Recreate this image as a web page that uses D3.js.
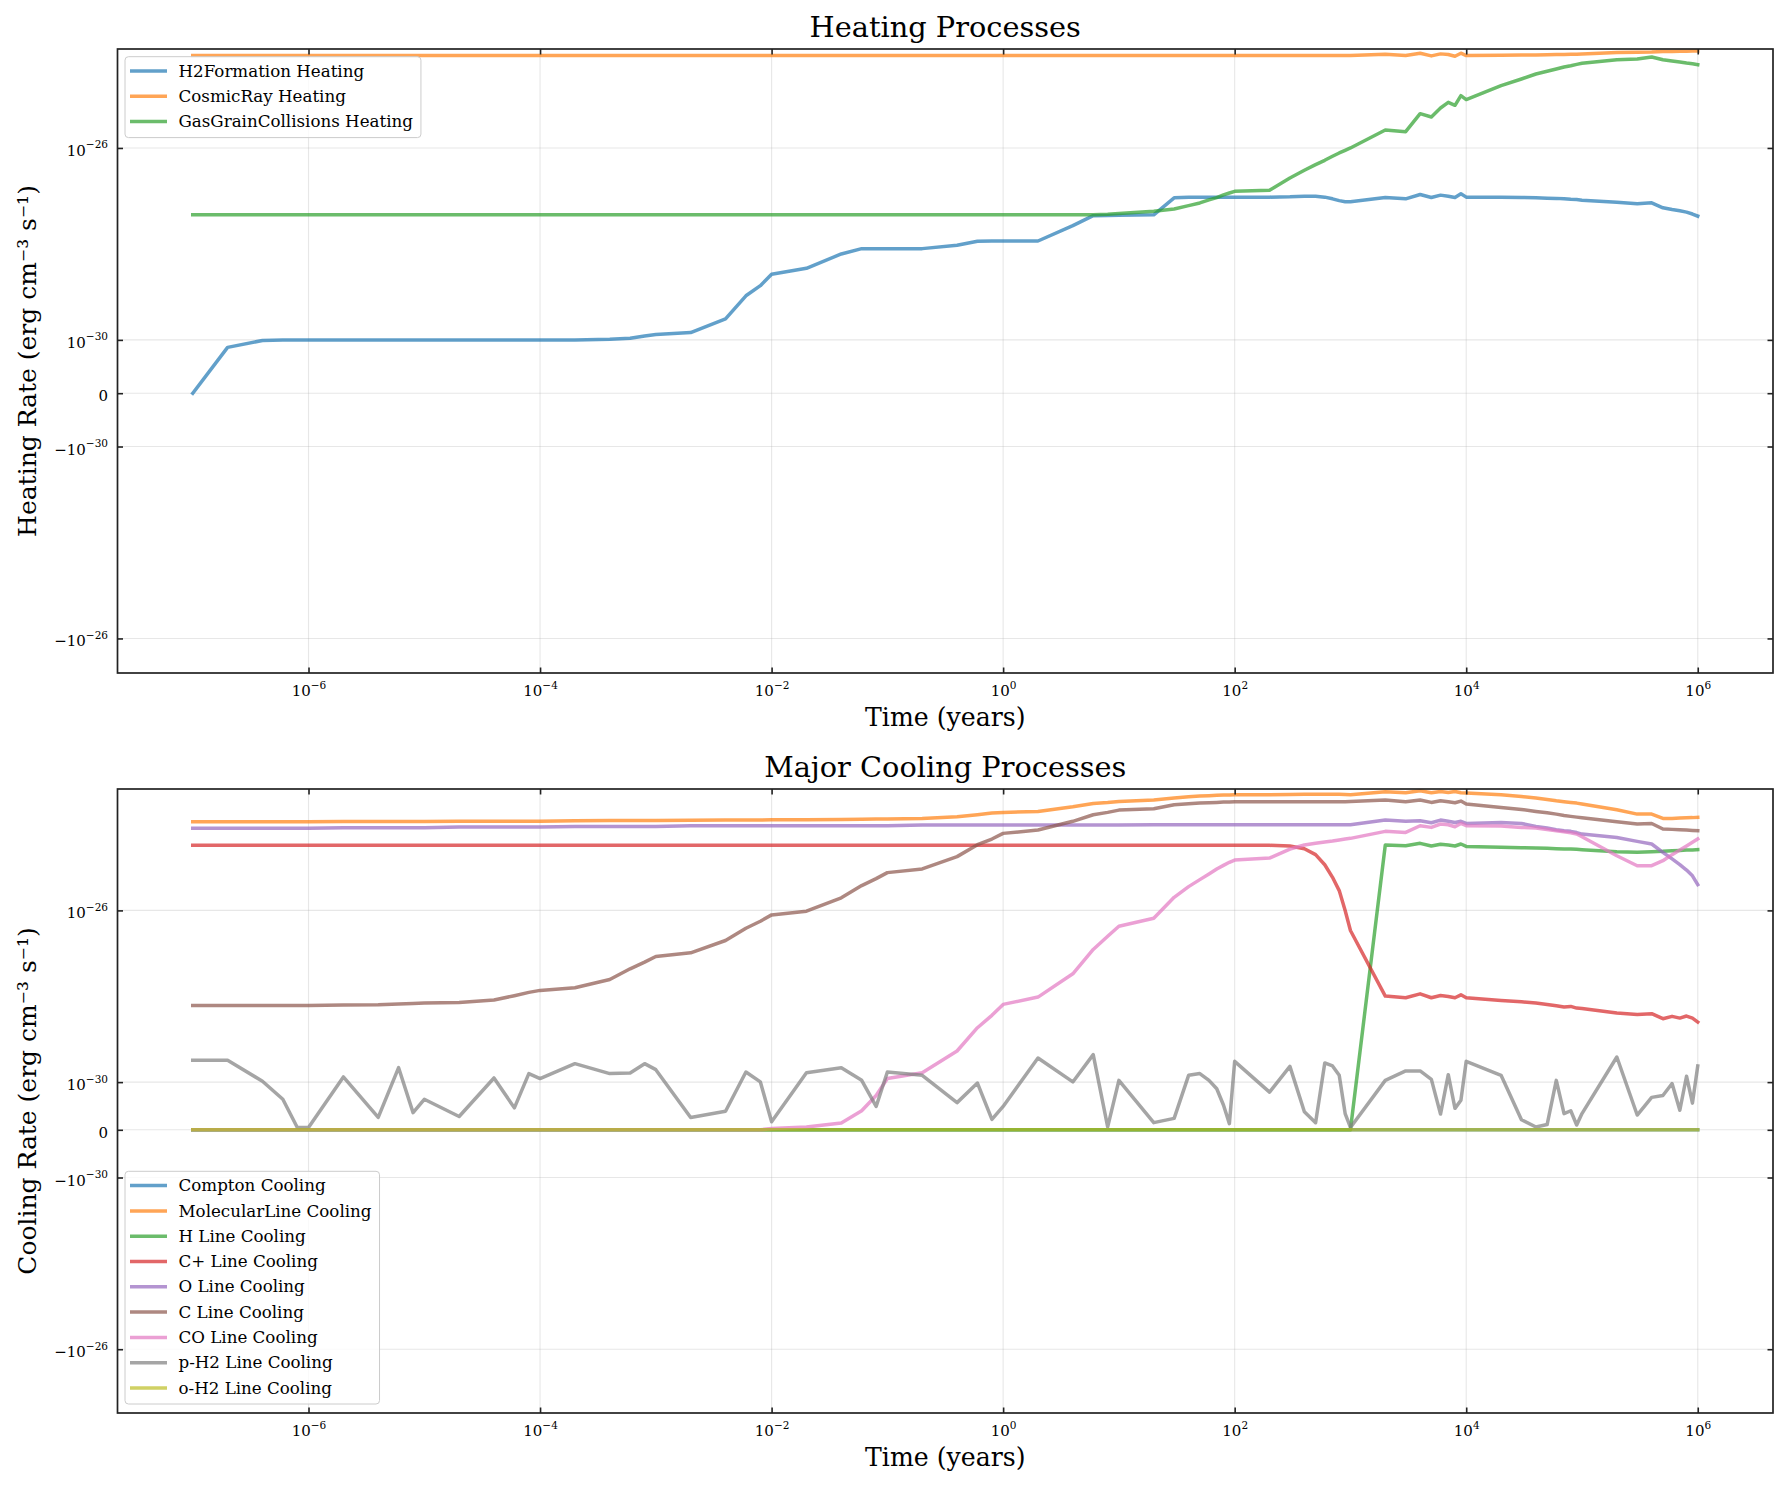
<!DOCTYPE html>
<html>
<head>
<meta charset="utf-8">
<script src="https://cdn.jsdelivr.net/npm/d3@7"></script>
<style>
  body { margin: 0; background: #fff; }
  text { font-family: "DejaVu Serif", serif; }
</style>
</head>
<body>
<svg id="chart"></svg>
<script>
// time grid of the simulation output (years)
const times = [
  1e-7, 2e-7, 4e-7, 6e-7, 8e-7,
  1e-6, 2e-6, 4e-6, 6e-6, 8e-6,
  1e-5, 2e-5, 4e-5, 6e-5, 8e-5,
  1e-4, 2e-4, 4e-4, 6e-4, 8e-4,
  1e-3, 2e-3, 4e-3, 6e-3, 8e-3,
  1e-2, 2e-2, 4e-2, 6e-2, 8e-2,
  1e-1, 2e-1, 4e-1, 6e-1, 8e-1,
  1, 2, 4, 6, 8,
  10, 20, 30, 40, 50, 60, 70, 80, 90,
  100, 200, 300, 400, 500, 600, 700, 800, 900,
  1e3, 2e3, 3e3, 4e3, 5e3, 6e3, 7e3, 8e3, 9e3,
  1e4, 2e4, 3e4, 4e4, 5e4, 6e4, 7e4, 8e4, 9e4,
  1e5, 2e5, 3e5, 4e5, 5e5, 6e5, 7e5, 8e5, 9e5,
  1e6
];

// heating rates (erg cm^-3 s^-1)
const h2FormationHeating = [
  0, 8.6e-31, 9.9e-31, 1e-30, 1e-30,
  1e-30, 1e-30, 1e-30, 1e-30, 1e-30,
  1e-30, 1e-30, 1e-30, 1e-30, 1e-30,
  1e-30, 1e-30, 1.03e-30, 1.08e-30, 1.21e-30,
  1.29e-30, 1.42e-30, 2.73e-30, 8.3e-30, 1.35e-29,
  2.33e-29, 3.11e-29, 6.18e-29, 7.98e-29, 7.98e-29,
  7.98e-29, 7.98e-29, 9.38e-29, 1.14e-28, 1.15e-28,
  1.15e-28, 1.15e-28, 2.4e-28, 3.88e-28, 3.9e-28,
  3.95e-28, 4.05e-28, 9.14e-28, 9.44e-28, 9.44e-28, 9.44e-28, 9.44e-28, 9.44e-28, 9.44e-28,
  9.44e-28, 9.44e-28, 9.59e-28, 9.89e-28, 9.89e-28, 9.44e-28, 8.71e-28, 8.0e-28, 7.6e-28,
  7.55e-28, 9.29e-28, 8.71e-28, 1.07e-27, 9.29e-28, 1.04e-27, 9.89e-28, 9.29e-28, 1.11e-27,
  9.44e-28, 9.44e-28, 9.3e-28, 9.14e-28, 9.0e-28, 8.9e-28, 8.7e-28, 8.5e-28, 8.4e-28,
  8.17e-28, 7.43e-28, 6.86e-28, 7.19e-28, 5.66e-28, 5.2e-28, 4.9e-28, 4.6e-28, 4.2e-28,
  3.8e-28
];
const cosmicRayHeating = [
  8.43e-25, 8.43e-25, 8.43e-25, 8.43e-25, 8.43e-25,
  8.43e-25, 8.43e-25, 8.43e-25, 8.43e-25, 8.43e-25,
  8.43e-25, 8.43e-25, 8.43e-25, 8.43e-25, 8.43e-25,
  8.43e-25, 8.43e-25, 8.43e-25, 8.43e-25, 8.43e-25,
  8.43e-25, 8.43e-25, 8.43e-25, 8.43e-25, 8.43e-25,
  8.43e-25, 8.43e-25, 8.43e-25, 8.43e-25, 8.43e-25,
  8.43e-25, 8.43e-25, 8.43e-25, 8.43e-25, 8.43e-25,
  8.43e-25, 8.43e-25, 8.43e-25, 8.43e-25, 8.43e-25,
  8.43e-25, 8.43e-25, 8.43e-25, 8.43e-25, 8.43e-25, 8.43e-25, 8.43e-25, 8.43e-25, 8.43e-25,
  8.43e-25, 8.43e-25, 8.43e-25, 8.43e-25, 8.43e-25, 8.43e-25, 8.43e-25, 8.43e-25, 8.43e-25,
  8.43e-25, 8.99e-25, 8.43e-25, 9.44e-25, 8.3e-25, 9.14e-25, 8.85e-25, 8.17e-25, 9.44e-25,
  8.43e-25, 8.57e-25, 8.65e-25, 8.7e-25, 8.8e-25, 8.85e-25, 8.9e-25, 8.95e-25, 9.0e-25,
  9.1e-25, 9.75e-25, 9.9e-25, 1.0e-24, 1.02e-24, 1.03e-24, 1.035e-24, 1.04e-24, 1.045e-24,
  1.05e-24
];
const gasGrainHeating = [
  4.05e-28, 4.05e-28, 4.05e-28, 4.05e-28, 4.05e-28,
  4.05e-28, 4.05e-28, 4.05e-28, 4.05e-28, 4.05e-28,
  4.05e-28, 4.05e-28, 4.05e-28, 4.05e-28, 4.05e-28,
  4.05e-28, 4.05e-28, 4.05e-28, 4.05e-28, 4.05e-28,
  4.05e-28, 4.05e-28, 4.05e-28, 4.05e-28, 4.05e-28,
  4.05e-28, 4.05e-28, 4.05e-28, 4.05e-28, 4.05e-28,
  4.05e-28, 4.05e-28, 4.05e-28, 4.05e-28, 4.05e-28,
  4.05e-28, 4.05e-28, 4.05e-28, 4.05e-28, 4.15e-28,
  4.3e-28, 4.8e-28, 5.36e-28, 6.29e-28, 7.15e-28, 8.26e-28, 9.23e-28, 1.05e-27, 1.15e-27,
  1.25e-27, 1.31e-27, 2.37e-27, 3.43e-27, 4.5e-27, 5.53e-27, 6.7e-27, 7.87e-27, 8.94e-27,
  1.0e-26, 2.37e-26, 2.19e-26, 5.19e-26, 4.43e-26, 6.81e-26, 8.93e-26, 7.74e-26, 1.23e-25,
  1.02e-25, 1.99e-25, 2.74e-25, 3.48e-25, 3.96e-25, 4.43e-25, 4.87e-25, 5.19e-25, 5.53e-25,
  5.81e-25, 6.92e-25, 7.15e-25, 7.87e-25, 6.92e-25, 6.5e-25, 6.19e-25, 5.9e-25, 5.71e-25,
  5.44e-25
];

// cooling rates (erg cm^-3 s^-1)
const comptonCooling = [
  0, 0, 0, 0, 0, 0, 0, 0, 0, 0, 0, 0, 0, 0, 0, 0, 0, 0, 0, 0,
  0, 0, 0, 0, 0, 0, 0, 0, 0, 0, 0, 0, 0, 0, 0, 0, 0, 0, 0, 0,
  0, 0, 0, 0, 0, 0, 0, 0, 0, 0, 0, 0, 0, 0, 0, 0, 0, 0, 0, 0,
  0, 0, 0, 0, 0, 0, 0, 0, 0, 0, 0, 0, 0, 0, 0, 0, 0, 0, 0, 0,
  0, 0, 0, 0, 0, 0
];
const molecularLineCooling = [
  1.16e-24, 1.16e-24, 1.16e-24, 1.16e-24, 1.16e-24,
  1.16e-24, 1.18e-24, 1.18e-24, 1.18e-24, 1.18e-24,
  1.18e-24, 1.2e-24, 1.2e-24, 1.2e-24, 1.2e-24,
  1.2e-24, 1.23e-24, 1.24e-24, 1.25e-24, 1.25e-24,
  1.25e-24, 1.26e-24, 1.27e-24, 1.28e-24, 1.28e-24,
  1.29e-24, 1.29e-24, 1.31e-24, 1.32e-24, 1.34e-24,
  1.35e-24, 1.39e-24, 1.52e-24, 1.7e-24, 1.85e-24,
  1.92e-24, 2.02e-24, 2.6e-24, 3.1e-24, 3.27e-24,
  3.46e-24, 3.72e-24, 4.13e-24, 4.45e-24, 4.6e-24, 4.7e-24, 4.8e-24, 4.85e-24, 4.9e-24,
  4.94e-24, 4.94e-24, 5.0e-24, 5.05e-24, 5.1e-24, 5.1e-24, 5.1e-24, 5.05e-24, 5.0e-24,
  4.94e-24, 5.81e-24, 5.5e-24, 6.12e-24, 5.5e-24, 5.91e-24, 5.6e-24, 5.91e-24, 5.5e-24,
  5.4e-24, 4.94e-24, 4.52e-24, 4.13e-24, 3.85e-24, 3.58e-24, 3.4e-24, 3.27e-24, 3.16e-24,
  3.0e-24, 2.21e-24, 1.75e-24, 1.75e-24, 1.39e-24, 1.39e-24, 1.42e-24, 1.44e-24, 1.45e-24,
  1.47e-24
];
const hLineCooling = [
  0, 0, 0, 0, 0, 0, 0, 0, 0, 0, 0, 0, 0, 0, 0, 0, 0, 0, 0, 0,
  0, 0, 0, 0, 0, 0, 0, 0, 0, 0, 0, 0, 0, 0, 0, 0, 0, 0, 0, 0,
  0, 0, 0, 0, 0, 0, 0, 0, 0, 0, 0, 0, 0, 0, 0, 0, 0, 0, 0,
  3.34e-25, 3.22e-25, 3.65e-25, 3.16e-25, 3.46e-25, 3.34e-25, 3.16e-25, 3.52e-25,
  3.1e-25, 2.94e-25, 2.9e-25, 2.84e-25, 2.8e-25, 2.74e-25, 2.69e-25, 2.69e-25, 2.65e-25,
  2.6e-25, 2.33e-25, 2.25e-25, 2.33e-25, 2.38e-25, 2.46e-25, 2.5e-25, 2.55e-25, 2.57e-25,
  2.6e-25
];
const cPlusLineCooling = [
  3.28e-25, 3.28e-25, 3.28e-25, 3.28e-25, 3.28e-25,
  3.28e-25, 3.28e-25, 3.28e-25, 3.28e-25, 3.28e-25,
  3.28e-25, 3.28e-25, 3.28e-25, 3.28e-25, 3.28e-25,
  3.28e-25, 3.28e-25, 3.28e-25, 3.28e-25, 3.28e-25,
  3.28e-25, 3.28e-25, 3.28e-25, 3.28e-25, 3.28e-25,
  3.28e-25, 3.28e-25, 3.28e-25, 3.28e-25, 3.28e-25,
  3.28e-25, 3.28e-25, 3.28e-25, 3.28e-25, 3.28e-25,
  3.28e-25, 3.28e-25, 3.28e-25, 3.28e-25, 3.28e-25,
  3.28e-25, 3.28e-25, 3.28e-25, 3.28e-25, 3.28e-25, 3.28e-25, 3.28e-25, 3.28e-25, 3.28e-25,
  3.28e-25, 3.28e-25, 3.16e-25, 2.74e-25, 1.99e-25, 1.16e-25, 5.9e-26, 2.89e-26, 9.91e-27,
  3.4e-27, 1.01e-28, 9.23e-29, 1.14e-28, 9.23e-29, 1.04e-28, 9.91e-29, 9.23e-29, 1.08e-28,
  9.23e-29, 8.0e-29, 7.45e-29, 6.93e-29, 6.46e-29, 6.01e-29, 5.6e-29, 5.8e-29, 5.31e-29,
  5.21e-29, 4.06e-29, 3.78e-29, 3.92e-29, 3.0e-29, 3.4e-29, 3.1e-29, 3.46e-29, 3.1e-29,
  2.51e-29
];
const oLineCooling = [
  8.15e-25, 8.15e-25, 8.15e-25, 8.15e-25, 8.15e-25,
  8.15e-25, 8.44e-25, 8.44e-25, 8.44e-25, 8.44e-25,
  8.44e-25, 8.74e-25, 8.74e-25, 8.74e-25, 8.74e-25,
  8.74e-25, 9.06e-25, 9.06e-25, 9.06e-25, 9.06e-25,
  9.06e-25, 9.39e-25, 9.39e-25, 9.39e-25, 9.39e-25,
  9.39e-25, 9.39e-25, 9.39e-25, 9.39e-25, 9.39e-25,
  9.39e-25, 9.73e-25, 9.73e-25, 9.73e-25, 9.73e-25,
  9.73e-25, 9.73e-25, 9.73e-25, 9.73e-25, 9.73e-25,
  9.73e-25, 9.91e-25, 9.91e-25, 9.91e-25, 9.91e-25, 9.91e-25, 9.91e-25, 9.91e-25, 9.91e-25,
  9.91e-25, 9.91e-25, 9.91e-25, 9.91e-25, 9.91e-25, 9.91e-25, 9.91e-25, 9.91e-25, 9.91e-25,
  9.91e-25, 1.27e-24, 1.19e-24, 1.23e-24, 1.1e-24, 1.27e-24, 1.19e-24, 1.12e-24, 1.19e-24,
  1.06e-24, 1.12e-24, 1.06e-24, 9.06e-25, 8.3e-25, 7.6e-25, 7.2e-25, 6.94e-25, 6.5e-25,
  6.0e-25, 5.0e-25, 4.06e-25, 3.52e-25, 2.25e-25, 1.58e-25, 1.17e-25, 8.7e-26, 6.4e-26,
  4.0e-26
];
const cLineCooling = [
  6.12e-29, 6.12e-29, 6.12e-29, 6.12e-29, 6.12e-29,
  6.12e-29, 6.23e-29, 6.34e-29, 6.57e-29, 6.81e-29,
  6.93e-29, 7.19e-29, 8.15e-29, 1.03e-28, 1.23e-28,
  1.37e-28, 1.58e-28, 2.46e-28, 4.36e-28, 6.24e-28,
  8.45e-28, 1.03e-27, 1.99e-27, 3.85e-27, 5.6e-27,
  7.86e-27, 9.57e-27, 1.96e-26, 3.78e-26, 5.5e-26,
  7.59e-26, 9.23e-26, 1.79e-25, 3.4e-25, 4.6e-25,
  6.23e-25, 7.45e-25, 1.19e-24, 1.69e-24, 1.92e-24,
  2.17e-24, 2.33e-24, 2.89e-24, 3.05e-24, 3.16e-24, 3.22e-24, 3.28e-24, 3.34e-24, 3.34e-24,
  3.4e-24, 3.4e-24, 3.4e-24, 3.4e-24, 3.4e-24, 3.4e-24, 3.4e-24, 3.4e-24, 3.4e-24,
  3.46e-24, 3.72e-24, 3.4e-24, 3.72e-24, 3.28e-24, 3.58e-24, 3.4e-24, 3.22e-24, 3.52e-24,
  3.0e-24, 2.51e-24, 2.25e-24, 2.02e-24, 1.88e-24, 1.75e-24, 1.63e-24, 1.55e-24, 1.49e-24,
  1.44e-24, 1.16e-24, 1.03e-24, 1.06e-24, 7.86e-25, 7.72e-25, 7.59e-25, 7.45e-25, 7.31e-25,
  7.19e-25
];
const coLineCooling = [
  0, 0, 0, 0, 0,
  0, 0, 0, 0, 0,
  0, 0, 0, 0, 0,
  0, 0, 0, 0, 0,
  0, 0, 0, 0, 0,
  2.7e-32, 6.1e-32, 1.45e-31, 4.0e-31, 7.2e-31,
  1.21e-30, 1.66e-30, 5.31e-30, 1.85e-29, 3.6e-29,
  6.46e-29, 9.57e-29, 3.34e-28, 1.23e-27, 2.51e-27,
  4.28e-27, 6.58e-27, 2.02e-26, 3.58e-26, 5.21e-26, 7.06e-26, 9.23e-26, 1.12e-25, 1.32e-25,
  1.49e-25, 1.66e-25, 2.69e-25, 3.34e-25, 3.65e-25, 3.92e-25, 4.13e-25, 4.36e-25, 4.6e-25,
  4.77e-25, 6.94e-25, 6.56e-25, 9.39e-25, 8.59e-25, 1.03e-24, 9.91e-25, 8.9e-25, 1.06e-24,
  9.39e-25, 9.23e-25, 8.59e-25, 8.28e-25, 7.7e-25, 7.19e-25, 6.8e-25, 6.4e-25, 6.01e-25,
  5.21e-25, 1.88e-25, 1.1e-25, 1.1e-25, 1.44e-25, 1.99e-25, 2.55e-25, 3.16e-25, 3.85e-25,
  4.6e-25
];
const pH2LineCooling = [
  3.22e-30, 3.22e-30, 1.05e-30, 6.4e-31, 5e-32,
  5e-32, 1.32e-30, 2.6e-31, 2.17e-30, 3.6e-31,
  6.4e-31, 2.8e-31, 1.25e-30, 4.6e-31, 1.58e-30,
  1.21e-30, 2.69e-30, 1.58e-30, 1.63e-30, 2.69e-30,
  1.95e-30, 2.6e-31, 3.9e-31, 1.72e-30, 1.01e-30,
  1.7e-31, 1.66e-30, 2.17e-30, 1.1e-30, 4.9e-31,
  1.72e-30, 1.44e-30, 5.7e-31, 9.8e-31, 2.2e-31,
  4.9e-31, 3.65e-30, 1.01e-30, 4.36e-30, 6e-32,
  1.1e-30, 1.5e-31, 2.4e-31, 1.44e-30, 1.58e-30, 1.1e-30, 8.6e-31, 5.2e-31, 1.3e-31,
  3.05e-30, 7.9e-31, 2.33e-30, 3.8e-31, 1.5e-31, 2.79e-30, 2.38e-30, 1.44e-30, 3.4e-31,
  5e-32, 1.1e-30, 1.82e-30, 1.82e-30, 1.16e-30, 3.3e-31, 1.49e-30, 4.5e-31, 6.2e-31,
  3.05e-30, 1.44e-30, 2.1e-31, 6e-32, 1.1e-31, 1.1e-30, 3.4e-31, 4.0e-31, 1.0e-31,
  3.4e-31, 3.85e-30, 3.1e-31, 6.8e-31, 7.2e-31, 9.7e-31, 4.1e-31, 1.37e-30, 5.6e-31,
  2.38e-30
];
const oH2LineCooling = [
  0, 0, 0, 0, 0, 0, 0, 0, 0, 0, 0, 0, 0, 0, 0, 0, 0, 0, 0, 0,
  0, 0, 0, 0, 0, 0, 0, 0, 0, 0, 0, 0, 0, 0, 0, 0, 0, 0, 0, 0,
  0, 0, 0, 0, 0, 0, 0, 0, 0, 0, 0, 0, 0, 0, 0, 0, 0, 0, 0, 0,
  0, 0, 0, 0, 0, 0, 0, 0, 0, 0, 0, 0, 0, 0, 0, 0, 0, 0, 0, 0,
  0, 0, 0, 0, 0, 0
];

const heatingNames = ["H2Formation Heating", "CosmicRay Heating", "GasGrainCollisions Heating"];
const coolingNames = ["Compton Cooling", "MolecularLine Cooling", "H Line Cooling", "C+ Line Cooling",
  "O Line Cooling", "C Line Cooling", "CO Line Cooling", "p-H2 Line Cooling", "o-H2 Line Cooling"];

const xTickExponents = [-6, -4, -2, 0, 2, 4, 6];
const yTickValues = [-1e-26, -1e-30, 0, 1e-30, 1e-26];

const W = 1789, H = 1489;
const L = 117.5, R = 1773, PH = 624;
const colors = d3.schemeCategory10;

// matplotlib style symlog: linthresh 1e-30, linscale 1, base 10
const LINTHRESH = 1e-30;
const LINSCALE = 1 / (1 - 1 / 10);
function symlog(v) {
  const a = Math.abs(v);
  if (a <= LINTHRESH) return v / LINTHRESH * LINSCALE;
  return Math.sign(v) * (LINSCALE + Math.log10(a / LINTHRESH));
}

const svg = d3.select("#chart").attr("width", W).attr("height", H);
svg.append("rect").attr("width", W).attr("height", H).attr("fill", "#fff");

const panels = [
  { title: "Heating Processes", ylabel: "Heating Rate (erg cm\u207B\u00B3 s\u207B\u00B9)", top: 49,
    names: heatingNames, values: [h2FormationHeating, cosmicRayHeating, gasGrainHeating], legend: "upper" },
  { title: "Major Cooling Processes", ylabel: "Cooling Rate (erg cm\u207B\u00B3 s\u207B\u00B9)", top: 789,
    names: coolingNames,
    values: [comptonCooling, molecularLineCooling, hLineCooling, cPlusLineCooling, oLineCooling,
      cLineCooling, coLineCooling, pH2LineCooling, oH2LineCooling], legend: "lower" }
];

function writePower(sel, prefix, exp) {
  sel.text(null);
  sel.append("tspan").text(prefix + "10");
  sel.append("tspan").attr("dy", -7.5).attr("font-size", 10.5)
    .text(exp < 0 ? "\u2212" + Math.abs(exp) : String(exp));
}

panels.forEach((p, pi) => {
  const top = p.top, bottom = top + PH;
  const x = d3.scaleLog().domain([Math.pow(10, -7.65), Math.pow(10, 6.65)]).range([L, R]);
  const maxV = d3.max(p.values, v => d3.max(v));
  const y = d3.scaleLinear().domain([symlog(-0.05 * maxV), symlog(1.1 * maxV)]).range([bottom, top]);
  const xTicks = xTickExponents.map(e => Math.pow(10, e));
  const yTicks = yTickValues.map(symlog);

  const g = svg.append("g");

  // grid
  g.append("g").selectAll("line").data(xTicks).join("line")
    .attr("x1", d => x(d)).attr("x2", d => x(d)).attr("y1", top).attr("y2", bottom)
    .attr("stroke", "#b0b0b0").attr("stroke-opacity", 0.3).attr("stroke-width", 1.1);
  g.append("g").selectAll("line").data(yTicks).join("line")
    .attr("x1", L).attr("x2", R).attr("y1", d => y(d)).attr("y2", d => y(d))
    .attr("stroke", "#b0b0b0").attr("stroke-opacity", 0.3).attr("stroke-width", 1.1);

  // lines
  svg.append("clipPath").attr("id", "clip" + pi)
    .append("rect").attr("x", L).attr("y", top).attr("width", R - L).attr("height", PH);
  const line = d3.line().x((d, i) => x(times[i])).y(d => y(symlog(d)));
  g.append("g").attr("clip-path", `url(#clip${pi})`)
    .selectAll("path").data(p.values).join("path")
    .attr("d", v => line(v))
    .attr("fill", "none")
    .attr("stroke", (v, i) => colors[i])
    .attr("stroke-width", 3.5)
    .attr("stroke-opacity", 0.7)
    .attr("stroke-linejoin", "round")
    .attr("stroke-linecap", "square");

  // axes, ticks pointing inward on all four sides
  const gx = g.append("g").attr("transform", `translate(0,${bottom})`)
    .call(d3.axisBottom(x).tickValues(xTicks).tickSizeInner(-5.5).tickSizeOuter(0).tickPadding(12.5));
  gx.selectAll(".tick text").each(function (d, i) {
    writePower(d3.select(this), "", xTickExponents[i]);
  });
  const gxt = g.append("g").attr("transform", `translate(0,${top})`)
    .call(d3.axisTop(x).tickValues(xTicks).tickSizeInner(-5.5).tickSizeOuter(0).tickFormat(""));

  const gy = g.append("g").attr("transform", `translate(${L},0)`)
    .call(d3.axisLeft(y).tickValues(yTicks).tickSizeInner(-5.5).tickSizeOuter(0).tickPadding(9.5));
  gy.selectAll(".tick text").attr("dy", "0.5em").each(function (d, i) {
    const v = yTickValues[i];
    const t = d3.select(this);
    if (v === 0) { t.text("0"); return; }
    writePower(t, v < 0 ? "\u2212" : "", Math.round(Math.log10(Math.abs(v))));
  });
  const gyr = g.append("g").attr("transform", `translate(${R},0)`)
    .call(d3.axisRight(y).tickValues(yTicks).tickSizeInner(-5.5).tickSizeOuter(0).tickFormat(""));

  [gx, gxt, gy, gyr].forEach(a => {
    a.attr("font-size", 15).attr("font-family", "DejaVu Serif");
    a.select(".domain").remove();
    a.selectAll(".tick line").attr("stroke", "#222").attr("stroke-width", 1.6);
    a.selectAll(".tick text").attr("fill", "#000");
  });

  // frame
  g.append("rect").attr("x", L).attr("y", top).attr("width", R - L).attr("height", PH)
    .attr("fill", "none").attr("stroke", "#222").attr("stroke-width", 1.7);

  // titles and labels
  g.append("text").attr("x", (L + R) / 2).attr("y", top - 12).attr("text-anchor", "middle")
    .attr("font-size", 28.8).text(p.title);
  g.append("text").attr("x", (L + R) / 2).attr("y", bottom + 53).attr("text-anchor", "middle")
    .attr("font-size", 25.2).text("Time (years)");
  g.append("text").attr("transform", `translate(36,${(top + bottom) / 2}) rotate(-90)`)
    .attr("text-anchor", "middle").attr("font-size", 25).text(p.ylabel);

  // legend
  const n = p.names.length;
  const lh = 14.3 + (n - 1) * 25.3 + 16;
  const lx = L + 7.5;
  const ly = p.legend === "upper" ? top + 7.7 : bottom - 9 - lh;
  const lg = g.append("g").attr("transform", `translate(${lx},${ly})`);
  const box = lg.append("rect").attr("rx", 3.5).attr("ry", 3.5).attr("height", lh)
    .attr("fill", "#fff").attr("fill-opacity", 0.8).attr("stroke", "#cccccc").attr("stroke-width", 1);
  let maxW = 0;
  p.names.forEach((name, i) => {
    const cy = 14.3 + i * 25.3;
    lg.append("line").attr("x1", 5).attr("x2", 42).attr("y1", cy).attr("y2", cy)
      .attr("stroke", colors[i]).attr("stroke-width", 3.5).attr("stroke-opacity", 0.7);
    const t = lg.append("text").attr("x", 53.5).attr("y", cy + 5.7).attr("font-size", 16.7).text(name);
    maxW = Math.max(maxW, t.node().getComputedTextLength());
  });
  box.attr("width", 53.5 + maxW + 8);
});
</script>
</body>
</html>
